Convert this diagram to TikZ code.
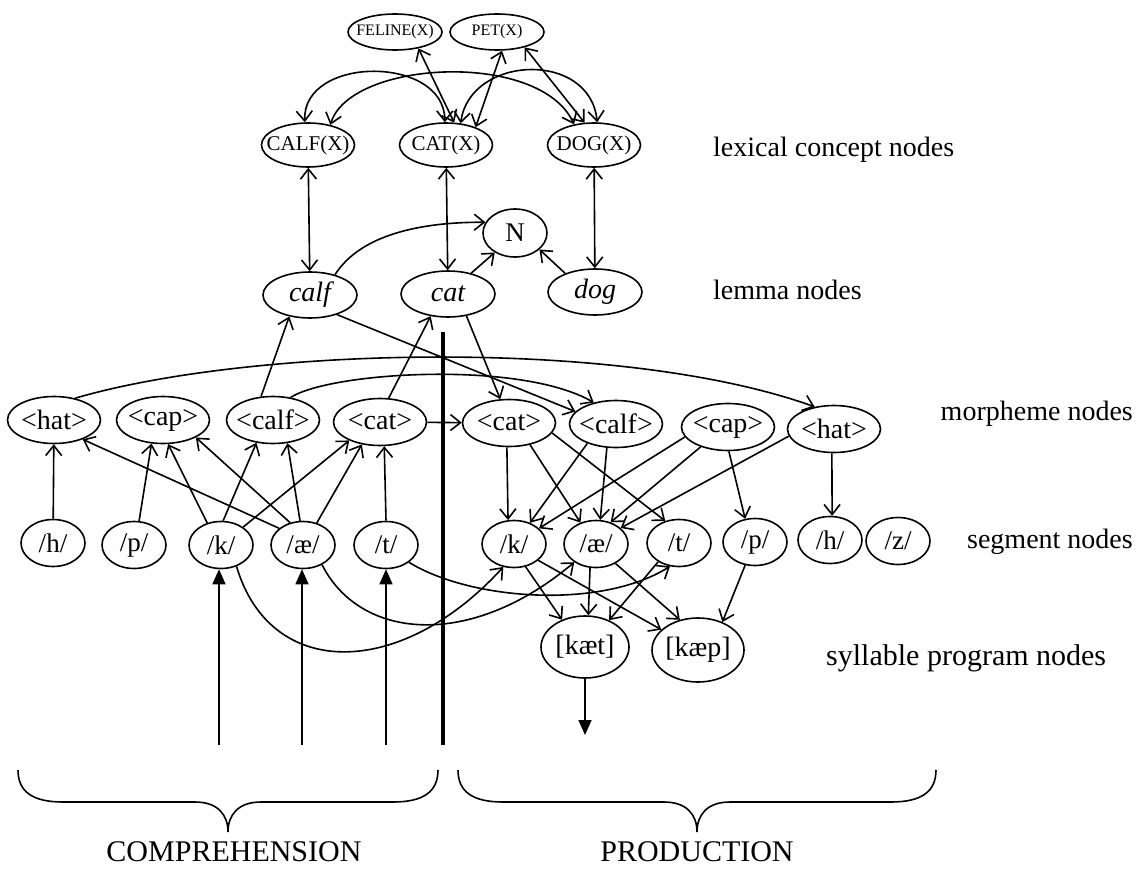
\documentclass[tikz,border=0pt]{standalone}
\usepackage{fontspec}
\setmainfont{Liberation Serif}
\usetikzlibrary{shapes.geometric,arrows.meta}
\newcommand\mytxt[1]{\makebox[0pt]{#1}}
\begin{document}
\begin{tikzpicture}[x=1pt,y=-1pt,
  nd/.style={draw,ellipse,line width=1.6pt,inner sep=0pt},
  smallc/.style={nd,minimum width=94pt,minimum height=36pt,font=\fontsize{16}{18}\selectfont},
  conc/.style={nd,minimum width=93pt,minimum height=44pt,font=\fontsize{21}{24}\selectfont},
  lem/.style={nd,minimum width=94pt,minimum height=46pt,font=\fontsize{28}{30}\selectfont\itshape},
  mor/.style={nd,minimum width=93pt,minimum height=47pt,font=\fontsize{28}{30}\selectfont},
  seg/.style={nd,minimum width=64pt,minimum height=47pt,font=\fontsize{27}{30}\selectfont},
  syl/.style={nd,minimum width=90pt,minimum height=63pt,font=\fontsize{28}{30}\selectfont},
  lbl/.style={inner sep=0pt,font=\fontsize{28}{30}\selectfont},
  big/.style={inner sep=0pt,font=\fontsize{30}{32}\selectfont},
  e/.style={line width=1.6pt},
  arr/.style={-{Straight Barb[length=10pt,width=16pt]}},
  darr/.style={{Straight Barb[length=10pt,width=16pt]}-{Straight Barb[length=10pt,width=16pt]}},
  tri/.style={-{Triangle[length=15pt,width=13pt]}}
]
\useasboundingbox (0,0) rectangle (1141,875);

% concept nodes
\node[smallc] (feline) at (395,32) {\mytxt{FELINE(X)}};
\node[smallc] (pet) at (497,32) {\mytxt{PET(X)}};
\node[conc] (calfX) at (308,145) {\mytxt{CALF(X)}};
\node[conc] (catX) at (446,145) {\mytxt{CAT(X)}};
\node[conc] (dogX) at (594,145) {\mytxt{DOG(X)}};

% lemma nodes
\node[nd,minimum width=64pt,minimum height=48pt,font=\fontsize{27}{30}\selectfont] (N) at (515,233) {\mytxt{N}};
\node[lem] (calf) at (310,295) {\mytxt{calf}};
\node[lem] (cat) at (448,294) {\mytxt{cat}};
\node[lem] (dog) at (595,292) {\mytxt{dog}};

% morpheme nodes
\node[mor] (hatL) at (54,420) {\mytxt{<hat>}};
\node[mor] (capL) at (163,420) {\mytxt{<cap>}};
\node[mor] (calfL) at (273,420) {\mytxt{<calf>}};
\node[mor] (catL) at (380,422) {\mytxt{<cat>}};
\node[mor] (catR) at (509,423) {\mytxt{<cat>}};
\node[mor] (calfR) at (616,424) {\mytxt{<calf>}};
\node[mor] (capR) at (728,427) {\mytxt{<cap>}};
\node[mor] (hatR) at (834,429) {\mytxt{<hat>}};

% segment nodes
\node[seg] (hL) at (53,543) {\mytxt{/h/}};
\node[seg] (pL) at (134,545) {\mytxt{/p/}};
\node[seg] (kL) at (221,545) {\mytxt{/k/}};
\node[seg] (aeL) at (303,545) {\mytxt{/æ/}};
\node[seg] (tL) at (386,545) {\mytxt{/t/}};
\node[seg] (kR) at (514,544) {\mytxt{/k/}};
\node[seg] (aeR) at (596,544) {\mytxt{/æ/}};
\node[seg] (tR) at (679,543) {\mytxt{/t/}};
\node[seg] (pR) at (755,542) {\mytxt{/p/}};
\node[seg] (hR) at (830,540) {\mytxt{/h/}};
\node[seg] (zR) at (898,541) {\mytxt{/z/}};

% syllable nodes
\node[syl,minimum width=88pt,minimum height=62pt] (kaet) at (585,647) {\mytxt{[kæt]}};
\node[syl,minimum width=92pt,minimum height=64pt] (kaep) at (698,650) {\mytxt{[kæp]}};

% labels
\node[lbl,anchor=west] (l1) at (713,150) {lexical concept nodes};
\node[lbl,anchor=west] (l2) at (713,290) {lemma nodes};
\node[lbl,anchor=east] (l3) at (1133,414) {morpheme nodes};
\node[lbl,anchor=east] (l4) at (1133,542) {segment nodes};
\node[lbl,anchor=west,font=\fontsize{30}{32}\selectfont] (l5) at (826,658) {syllable program nodes};
\node[big] (comp) at (234,852) {COMPREHENSION};
\node[big] (prod) at (697,852) {PRODUCTION};

% concept links
\draw[e,darr] (feline.-35) -- (catX.70);
\draw[e,darr] (pet.-75) -- (catX.31);
\draw[e,darr] (pet.-29) -- (dogX.113);
\draw[e,darr] (calfX.98) .. controls (302,55) and (445,55) .. (catX.93);
\draw[e,darr] (calfX.42) .. controls (350,60) and (540,50) .. (dogX.134);
\draw[e,darr] (catX.56) .. controls (470,55) and (590,50) .. (dogX.82);

% concept - lemma
\draw[e,darr] (calfX) -- (calf);
\draw[e,darr] (catX) -- (cat);
\draw[e,darr] (dogX) -- (dog);

% lemma -> N
\draw[e,arr] (calf.39) .. controls (360,235) and (420,222) .. (N.160);
\draw[e,arr] (cat.42) -- (N.-136);
\draw[e,arr] (dog.148) -- (N.-34);

% lemma -> production morphemes
\draw[e,arr] (calf.-36) -- (calfR.163);
\draw[e,arr] (cat.-50) -- (catR.110);

% comprehension morphemes -> lemma
\draw[e,arr] (calfL.117) -- (calf.-134);
\draw[e,arr] (catL.70) -- (cat.-128);

% comprehension morphemes -> production morphemes
\draw[e,arr] (catL) -- (catR);
\draw[e,arr] (hatL.46) .. controls (250,347) and (620,337) .. (hatR.131);
\draw[e,arr] (calfL.52) .. controls (330,372) and (520,360) .. (calfR.136);

% comprehension segments -> morphemes
\draw[e,arr] (hL) -- (hatL);
\draw[e,arr] (pL.78) -- (capL.-116);
\draw[e,arr] (kL.122) -- (capL.-78);
\draw[e,arr] (kL.85) -- (calfL.-126);
\draw[e,arr] (kL.39) -- (catL.-149);
\draw[e,arr] (aeL.145) -- (hatL.-34);
\draw[e,arr] (aeL.120) -- (capL.-28);
\draw[e,arr] (aeL.97) -- (calfL.-58);
\draw[e,arr] (aeL.58) -- (catL.-129);
\draw[e,arr] (tL.north) -- (catL.-80);

% production morphemes -> segments
\draw[e,arr] (catR.-95) -- (kR.104);
\draw[e,arr] (catR.-46) -- (aeR.126);
\draw[e,arr] (catR.-13) -- (tR.122);
\draw[e,arr] (calfR.-146) -- (kR.53);
\draw[e,arr] (calfR.-111) -- (aeR.80);
\draw[e,arr] (capR.-167) -- (kR.32);
\draw[e,arr] (capR.-144) -- (aeR.56);
\draw[e,arr] (capR.-88) -- (pR.113);
\draw[e,arr] (hatR.-95) -- (hR.85);
\draw[e,arr] (hatR.-171) -- (aeR.33);

% segments -> syllables
\draw[e,arr] (kR.-63) -- (kaet.130);
\draw[e,arr] (kR.-34) -- (kaep.151);
\draw[e,arr] (aeR.-104) -- (kaet.84);
\draw[e,arr] (aeR.-45) -- (kaep.121);
\draw[e,arr] (tR.-138) -- (kaet.48);
\draw[e,arr] (pR.-113) -- (kaep.49);

% comprehension segments -> production segments
\draw[e,arr] (kL.-54) .. controls (270,680) and (400,680) .. (kR.-115);
\draw[e,arr] (aeL.-46) .. controls (360,640) and (470,650) .. (aeR.-140);
\draw[e,arr] (tL.-37) .. controls (470,600) and (600,610) .. (tR.-111);

% input arrows
\coordinate (inK) at (219,745);
\coordinate (inA) at (302,745);
\coordinate (inT) at (386,745);
\draw[e,tri] (inK) -- (inK |- kL.south);
\draw[e,tri] (inA) -- (inA |- aeL.south);
\draw[e,tri] (inT) -- (inT |- tL.south);

% output arrow
\coordinate (out) at (585,735);
\draw[e,tri] (kaet.south) -- (out);

% divider
\coordinate (divT) at (443,332);
\coordinate (divB) at (443,745);
\draw[line width=3.5pt] (divT) -- (divB);

% braces
\draw[e] (18,770) .. controls (18,792) and (33,802) .. (63,802) -- (195,802)
  .. controls (218,802) and (228,815) .. (228,832)
  .. controls (228,815) and (238,802) .. (261,802) -- (393,802)
  .. controls (423,802) and (438,792) .. (438,770);
\draw[e] (458,770) .. controls (458,792) and (473,802) .. (503,802) -- (664,802)
  .. controls (687,802) and (697,815) .. (697,832)
  .. controls (697,815) and (707,802) .. (730,802) -- (891,802)
  .. controls (921,802) and (936,792) .. (936,770);
\end{tikzpicture}
\end{document}
